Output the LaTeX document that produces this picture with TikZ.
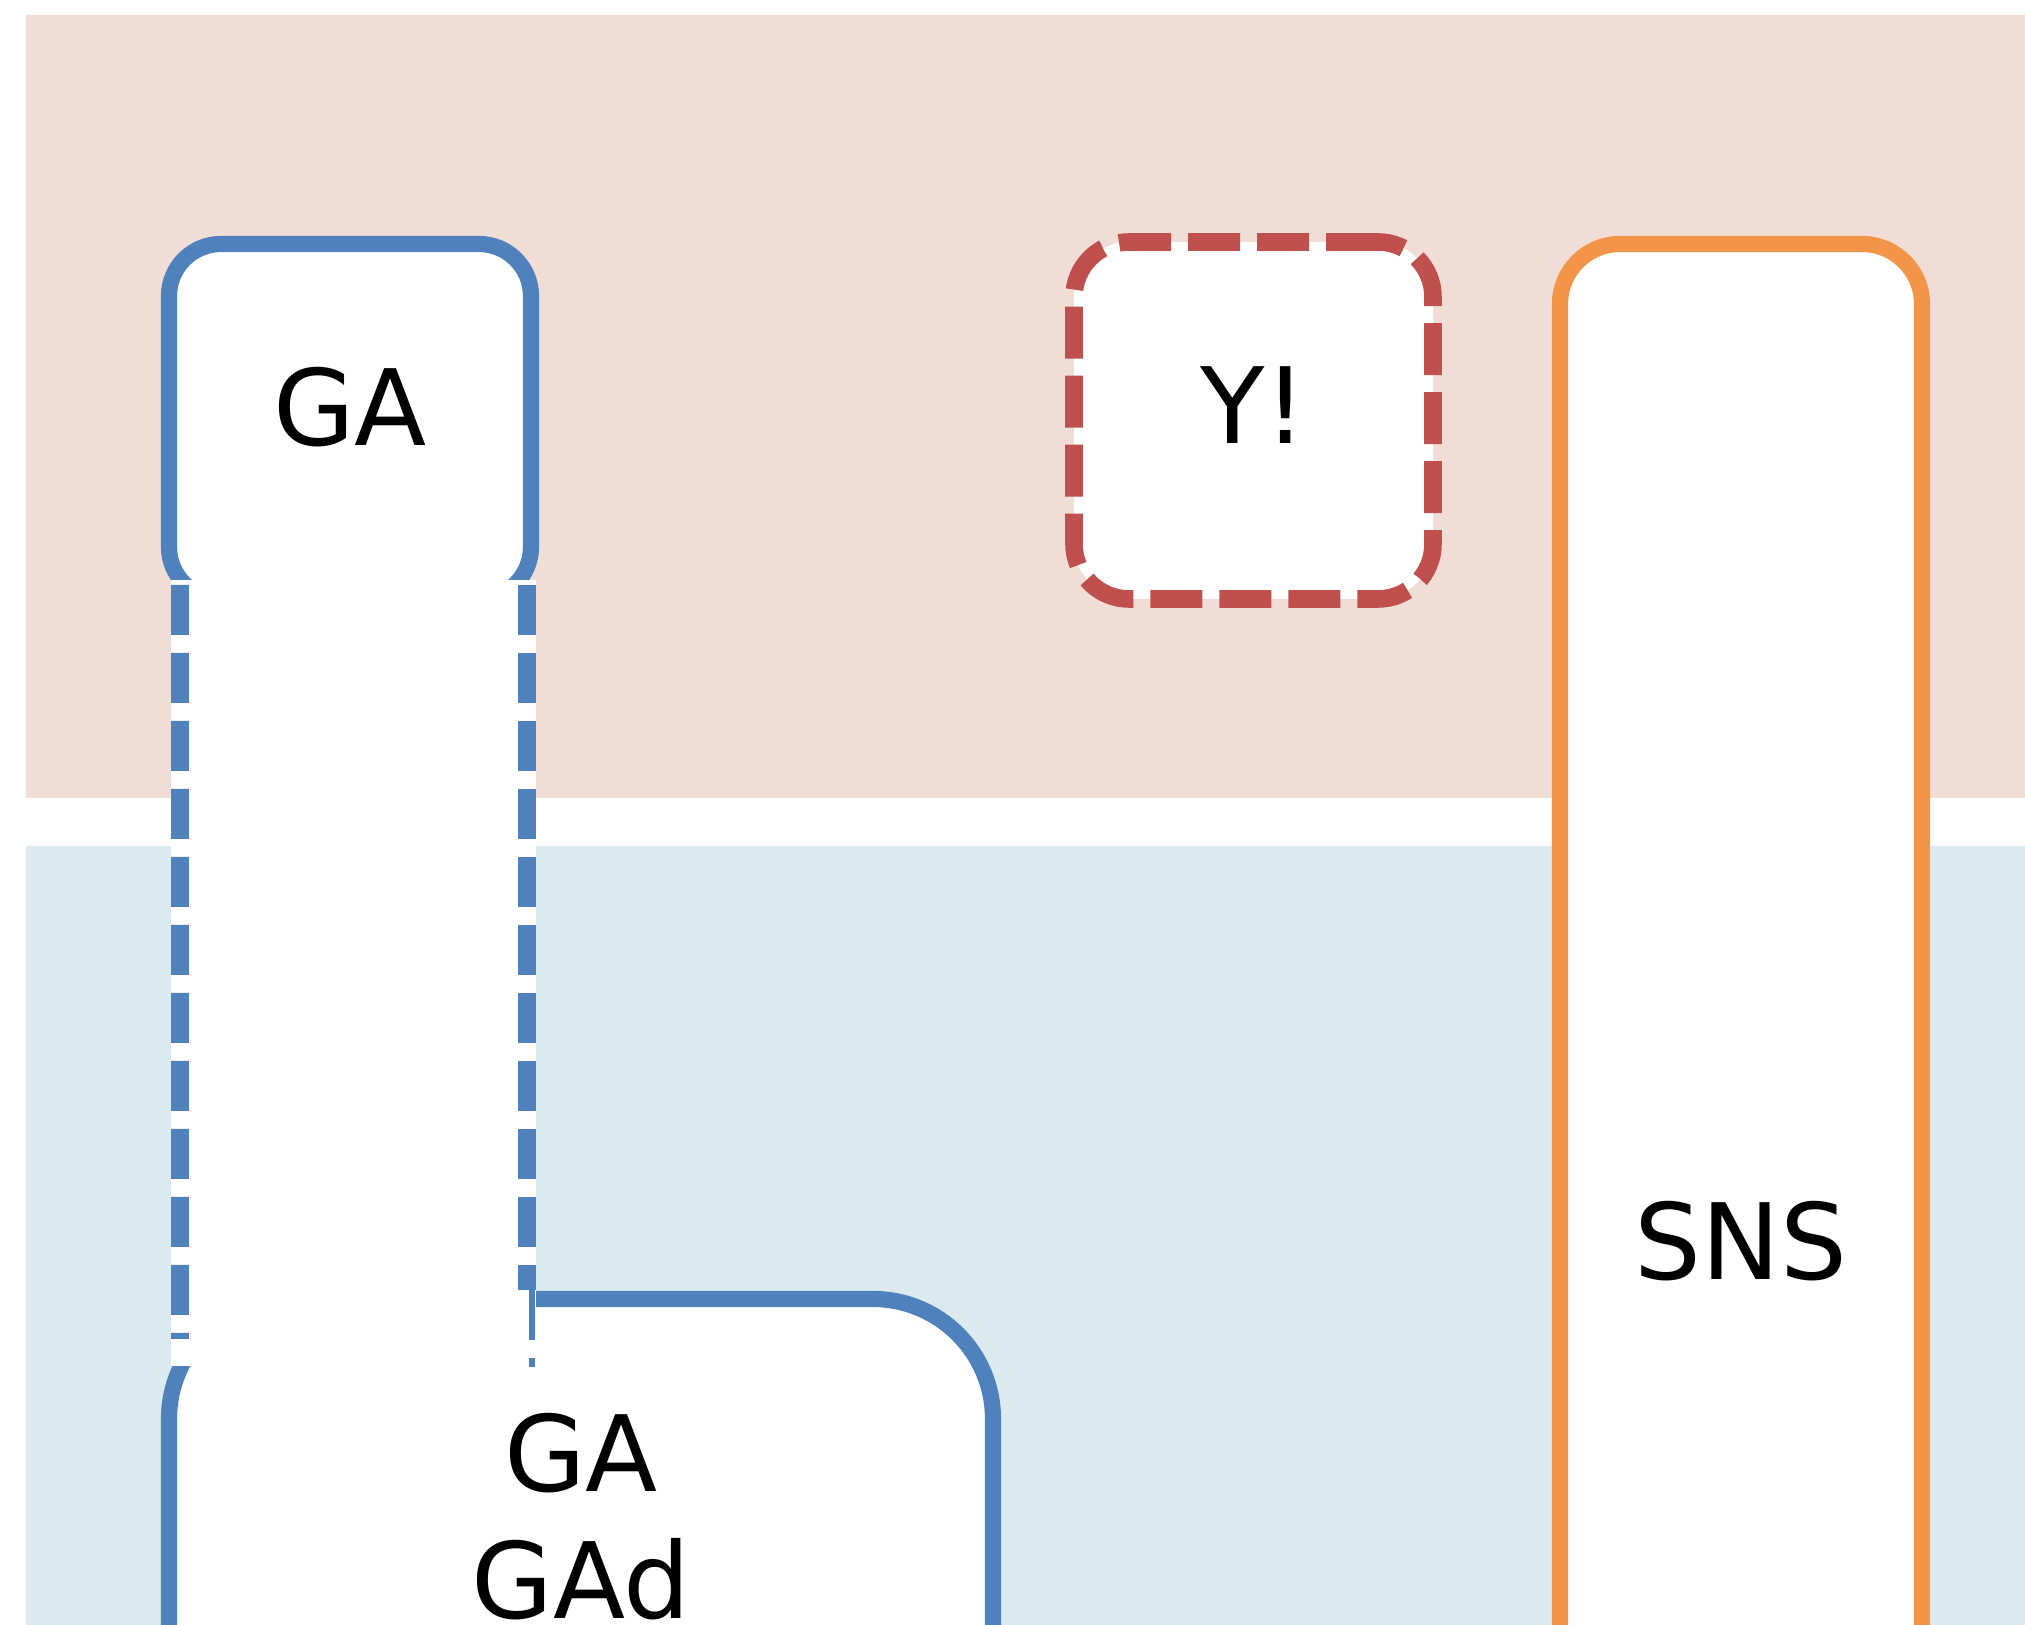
\documentclass[tikz,border=0pt]{standalone}
\usepackage{fontspec}
\setmainfont{DejaVu Sans}
\usepackage{xcolor}
\usetikzlibrary{calc}
\definecolor{bandpink}{RGB}{240,221,214}
\definecolor{bandblue}{RGB}{218,234,238}
\definecolor{gablue}{RGB}{79,129,189}
\definecolor{alertred}{RGB}{192,80,77}
\definecolor{snsorange}{RGB}{242,149,72}

\tikzset{
    panel/.style={draw, fill=white, line width=4.6pt, rounded corners=#1,
        inner sep=0pt, outer sep=0pt, font=\fontsize{30}{36}\selectfont},
    panel/.default=5.2mm,
    gadash/.style={gablue, line width=5pt, dash pattern=on 5mm off 1.8mm}
}

\begin{document}
\begin{tikzpicture}
    \useasboundingbox (0,0) rectangle (20.25,16.25);
    \fill[white] (0,0) rectangle (20.25,16.25);
    \clip (0,0) rectangle (20.25,16.25);

    % Background bands
    \fill[bandpink] (0.26,8.27) rectangle (20.25,16.10);
    \fill[bandblue] (0.26,0) rectangle (20.25,7.79);

    % Upper boxes
    \node[panel, draw=gablue, minimum width=3.62cm, minimum height=3.55cm, text depth=3mm] (gatop) at (3.50,12.035) {GA};
    \node[panel=5.5mm, draw=alertred, line width=5pt, dash pattern=on 5.2mm off 1.7mm,
        minimum width=3.59cm, minimum height=3.57cm, text depth=3mm] (alert) at (12.535,12.045) {Y!};
    \node[panel=6mm, draw=snsorange, minimum width=3.62cm, minimum height=20.22cm, text depth=3mm] (sns) at (17.41,3.70) {SNS};

    % Lower box, running on past the bottom edge
    \node[panel=12mm, draw=gablue, minimum width=8.24cm, minimum height=6cm, text depth=1.66cm, align=center] (gabot) at (5.81,0.26) {GA\\GAd};

    % Link between the two GA boxes
    \fill[white] ($(gatop.south west)+(0.02,0.19)$) rectangle ($(gatop.south east |- gabot.north)+(0.05,-0.67)$);
    \draw[gadash] ($(gatop.south west)+(0.11,0.14)$) -- ($(gabot.north west)+(0.11,-0.40)$);
    \draw[gadash] ($(gatop.south east)+(-0.04,0.14)$) -- ($(gatop.south east |- gabot.north)+(-0.04,0.09)$);
    \draw[gadash, line width=1.5pt] ($(gatop.south east |- gabot.north)+(0.01,0.09)$) -- ($(gatop.south east |- gabot.north)+(0.01,-0.68)$);
\end{tikzpicture}
\end{document}
